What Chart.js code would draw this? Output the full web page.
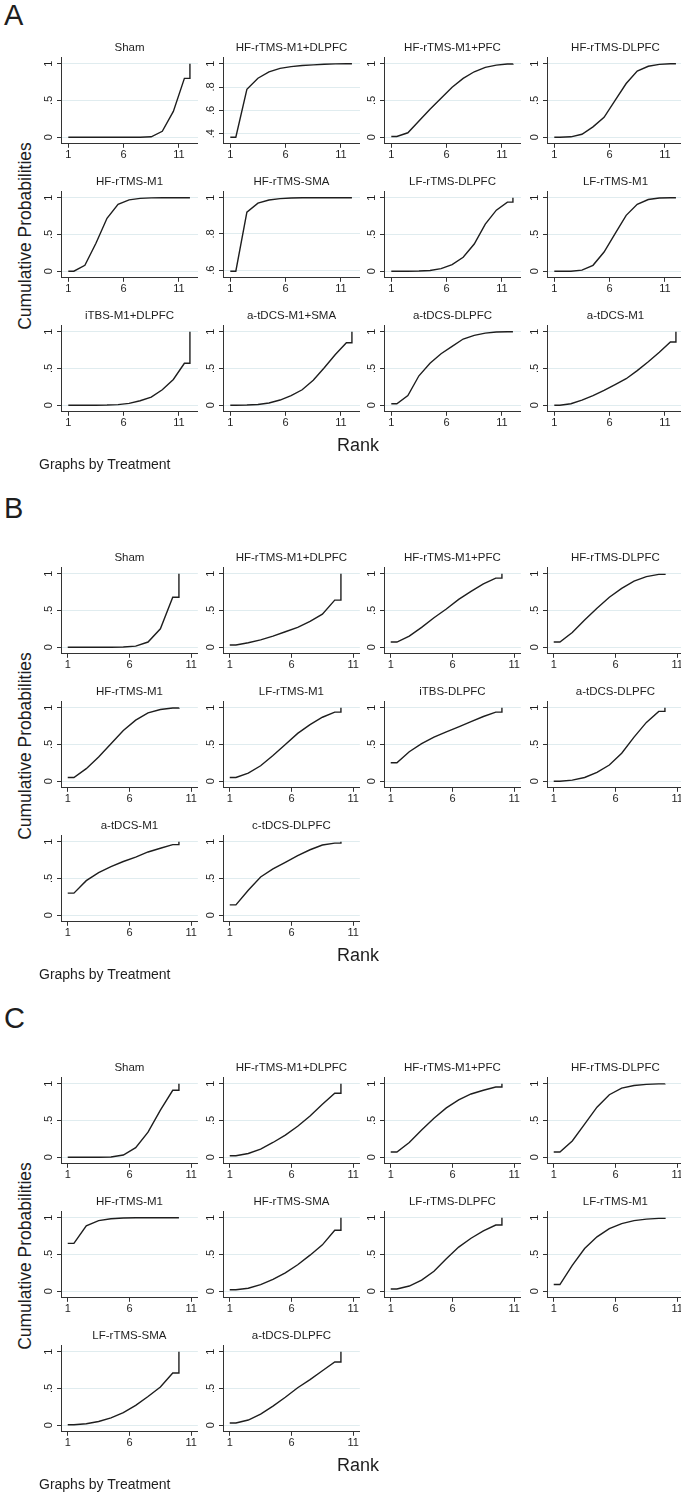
<!DOCTYPE html>
<html>
<head>
<meta charset="utf-8">
<script src="https://cdn.jsdelivr.net/npm/chart.js@4.4.0/dist/chart.umd.min.js"></script>
<style>
body { margin: 0; background: #fff; }
#page { position: relative; width: 681px; height: 1494px; overflow: hidden; font-family: 'Liberation Sans', Arial, sans-serif; color: #1e1e1e; }
canvas { position: absolute; }
.letter { position: absolute; left: 4px; font-size: 29px; line-height: 29px; }
.ylab { position: absolute; left: 25px; font-size: 17.5px; white-space: nowrap; transform: translate(-50%, -50%) rotate(-90deg); }
.xlab { position: absolute; left: 358px; font-size: 18px; transform: translate(-50%, -50%); }
.note { position: absolute; left: 39px; font-size: 14px; white-space: nowrap; transform: translateY(-50%); }
</style>
</head>
<body>
<div id="page"></div>
<script>
// tick labels
var xTicks = [1, 6, 11];
var yTicksDefault = [0, 0.5, 1];

// A
var treatmentsA = ['Sham', 'HF-rTMS-M1+DLPFC', 'HF-rTMS-M1+PFC', 'HF-rTMS-DLPFC',
    'HF-rTMS-M1', 'HF-rTMS-SMA', 'LF-rTMS-DLPFC', 'LF-rTMS-M1',
    'iTBS-M1+DLPFC', 'a-tDCS-M1+SMA', 'a-tDCS-DLPFC', 'a-tDCS-M1'];
var cumProbA = [
    [0, 0, 0, 0, 0, 0, 0, 0.005, 0.08, 0.35, 0.8, 1],
    [0.37, 0.78, 0.875, 0.93, 0.96, 0.975, 0.985, 0.99, 0.995, 0.998, 1, 1],
    [0.01, 0.06, 0.22, 0.38, 0.53, 0.68, 0.8, 0.89, 0.95, 0.98, 0.995, 1],
    [0, 0.005, 0.04, 0.14, 0.27, 0.5, 0.73, 0.9, 0.965, 0.99, 1, 1],
    [0, 0.08, 0.38, 0.72, 0.91, 0.97, 0.99, 0.998, 1, 1, 1, 1],
    [0.595, 0.92, 0.97, 0.987, 0.995, 0.998, 1, 1, 1, 1, 1, 1],
    [0, 0, 0.003, 0.01, 0.035, 0.09, 0.19, 0.37, 0.64, 0.83, 0.94, 1],
    [0, 0, 0.015, 0.08, 0.26, 0.51, 0.76, 0.91, 0.975, 0.995, 1, 1],
    [0, 0, 0, 0.002, 0.008, 0.025, 0.06, 0.11, 0.21, 0.35, 0.57, 1],
    [0, 0.003, 0.01, 0.03, 0.07, 0.13, 0.21, 0.34, 0.51, 0.69, 0.85, 1],
    [0.02, 0.13, 0.4, 0.57, 0.7, 0.8, 0.9, 0.95, 0.98, 0.995, 1, 1],
    [0, 0.02, 0.07, 0.13, 0.2, 0.28, 0.36, 0.47, 0.59, 0.72, 0.86, 1]
];
var yTicksA = { 'HF-rTMS-M1+DLPFC': [0.4, 0.6, 0.8, 1], 'HF-rTMS-SMA': [0.6, 0.8, 1] };

// B
var treatmentsB = ['Sham', 'HF-rTMS-M1+DLPFC', 'HF-rTMS-M1+PFC', 'HF-rTMS-DLPFC',
    'HF-rTMS-M1', 'LF-rTMS-M1', 'iTBS-DLPFC', 'a-tDCS-DLPFC',
    'a-tDCS-M1', 'c-tDCS-DLPFC'];
var cumProbB = [
    [0, 0, 0, 0, 0.002, 0.015, 0.07, 0.25, 0.68, 1],
    [0.03, 0.06, 0.1, 0.15, 0.21, 0.27, 0.35, 0.45, 0.64, 1],
    [0.07, 0.15, 0.27, 0.4, 0.52, 0.65, 0.76, 0.86, 0.94, 1],
    [0.07, 0.2, 0.37, 0.53, 0.68, 0.8, 0.9, 0.96, 0.99, 1],
    [0.05, 0.17, 0.33, 0.51, 0.69, 0.83, 0.93, 0.975, 0.995, 1],
    [0.05, 0.11, 0.21, 0.35, 0.5, 0.65, 0.77, 0.87, 0.94, 1],
    [0.25, 0.4, 0.51, 0.6, 0.67, 0.74, 0.81, 0.88, 0.94, 1],
    [0, 0.015, 0.05, 0.12, 0.22, 0.38, 0.6, 0.8, 0.95, 1],
    [0.3, 0.47, 0.58, 0.66, 0.73, 0.79, 0.86, 0.91, 0.96, 1],
    [0.14, 0.34, 0.52, 0.63, 0.72, 0.81, 0.89, 0.955, 0.98, 1]
];

// C
var treatmentsC = ['Sham', 'HF-rTMS-M1+DLPFC', 'HF-rTMS-M1+PFC', 'HF-rTMS-DLPFC',
    'HF-rTMS-M1', 'HF-rTMS-SMA', 'LF-rTMS-DLPFC', 'LF-rTMS-M1',
    'LF-rTMS-SMA', 'a-tDCS-DLPFC'];
var cumProbC = [
    [0, 0, 0, 0.002, 0.03, 0.13, 0.34, 0.64, 0.91, 1],
    [0.02, 0.05, 0.11, 0.2, 0.3, 0.42, 0.56, 0.72, 0.87, 1],
    [0.07, 0.2, 0.37, 0.53, 0.67, 0.78, 0.86, 0.91, 0.955, 1],
    [0.07, 0.22, 0.45, 0.68, 0.85, 0.94, 0.975, 0.99, 0.998, 1],
    [0.65, 0.89, 0.96, 0.985, 0.995, 1, 1, 1, 1, 1],
    [0.02, 0.04, 0.09, 0.16, 0.25, 0.36, 0.49, 0.63, 0.83, 1],
    [0.03, 0.07, 0.15, 0.27, 0.44, 0.6, 0.72, 0.82, 0.9, 1],
    [0.09, 0.35, 0.58, 0.74, 0.85, 0.92, 0.96, 0.98, 0.99, 1],
    [0.005, 0.02, 0.05, 0.1, 0.17, 0.27, 0.39, 0.52, 0.71, 1],
    [0.03, 0.07, 0.15, 0.26, 0.38, 0.51, 0.62, 0.74, 0.86, 1]
];

var panels = [
    { letter: 'A', top: 48, letterTop: 1, names: treatmentsA, cum: cumProbA, yTicks: yTicksA, xMin: 0.34, xMax: 12.73 },
    { letter: 'B', top: 558, letterTop: 494, names: treatmentsB, cum: cumProbB, yTicks: {}, xMin: 0.455, xMax: 11.53 },
    { letter: 'C', top: 1068, letterTop: 1004, names: treatmentsC, cum: cumProbC, yTicks: {}, xMin: 0.455, xMax: 11.53 }
];

var colX = [61, 223, 384, 547];   // y axis line of each column
var rowStep = 134;
var plotW = 131, plotH = 86, yAxisW = 24;
var titleH = 20.8, canvasH = 130;
var font = "'Liberation Sans', Arial, sans-serif";
var ink = '#1e1e1e';

var page = document.getElementById('page');

function fmt(v) {
    if (v === 0) return '0';
    if (v === 1) return '1';
    return String(v).replace(/^0/, '');
}

// stata style: horizontal start, mid-rank steps, vertical finish at last rank
function rankPoints(p) {
    var n = p.length;
    var pts = [{ x: 1, y: p[0] }];
    for (var k = 1; k < n; k++) {
        pts.push({ x: k + 0.5, y: p[k - 1] });
    }
    pts.push({ x: n, y: p[n - 2] });
    pts.push({ x: n, y: p[n - 1] });
    return pts;
}

var yLabelPlugin = {
    id: 'yLabels',
    afterDraw: function(chart) {
        var s = chart.scales.y;
        var ctx = chart.ctx;
        ctx.save();
        ctx.font = '11px ' + font;
        ctx.fillStyle = ink;
        ctx.textAlign = 'center';
        ctx.textBaseline = 'middle';
        s.ticks.forEach(function(t) {
            var py = s.getPixelForValue(t.value);
            ctx.save();
            ctx.translate(chart.chartArea.left - 12, py);
            ctx.rotate(-Math.PI / 2);
            ctx.fillText(fmt(t.value), 0, 0);
            ctx.restore();
        });
        ctx.restore();
    }
};

function addText(cls, text, top) {
    var d = document.createElement('div');
    d.className = cls;
    d.textContent = text;
    d.style.top = top + 'px';
    page.appendChild(d);
}

function makeChart(panel, idx) {
    var name = panel.names[idx];
    var p = panel.cum[idx];
    var row = Math.floor(idx / 4), col = idx % 4;
    var titleY = panel.top + row * rowStep;

    var cv = document.createElement('canvas');
    cv.width = yAxisW + plotW + 6;
    cv.height = canvasH;
    cv.style.left = (colX[col] - yAxisW) + 'px';
    cv.style.top = (titleY - 10.9) + 'px';
    page.appendChild(cv);

    var ticksY = panel.yTicks[name] || yTicksDefault;
    var lo = Math.min(Math.min.apply(null, p), ticksY[0]);
    var range = 1 - lo;

    new Chart(cv, {
        type: 'line',
        data: {
            datasets: [{
                data: rankPoints(p),
                borderColor: ink,
                borderWidth: 1.4,
                pointRadius: 0,
                tension: 0,
                fill: false
            }]
        },
        options: {
            responsive: false,
            animation: false,
            devicePixelRatio: 1,
            layout: { padding: 0 },
            plugins: {
                legend: { display: false },
                tooltip: { enabled: false },
                title: {
                    display: true,
                    text: name,
                    fullSize: false,
                    color: ink,
                    font: { family: font, size: 11.5, weight: 'normal', lineHeight: 1.2 },
                    padding: { top: 4, bottom: 3 }
                }
            },
            scales: {
                x: {
                    type: 'linear',
                    min: panel.xMin,
                    max: panel.xMax,
                    afterBuildTicks: function(s) { s.ticks = xTicks.map(function(v) { return { value: v }; }); },
                    afterFit: function(s) { s.height = canvasH - titleH - plotH; },
                    grid: { drawOnChartArea: false, drawTicks: true, tickLength: 4, tickColor: '#333' },
                    border: { display: true, color: '#333', width: 1 },
                    ticks: { color: ink, font: { family: font, size: 11 }, padding: 1, maxRotation: 0, autoSkip: false,
                        callback: function(v) { return fmt(v); } }
                },
                y: {
                    type: 'linear',
                    min: lo - 0.09 * range,
                    max: 1 + 0.08 * range,
                    afterBuildTicks: function(s) { s.ticks = ticksY.map(function(v) { return { value: v }; }); },
                    afterFit: function(s) { s.width = yAxisW; },
                    grid: { color: '#e0ecef', lineWidth: 1, drawTicks: true, tickLength: 4, tickColor: '#333' },
                    border: { display: true, color: '#333', width: 1 },
                    ticks: { display: false }
                }
            }
        },
        plugins: [yLabelPlugin]
    });
}

panels.forEach(function(panel) {
    var d = document.createElement('div');
    d.className = 'letter';
    d.textContent = panel.letter;
    d.style.top = panel.letterTop + 'px';
    page.appendChild(d);

    for (var i = 0; i < panel.names.length; i++) {
        makeChart(panel, i);
    }

    addText('ylab', 'Cumulative Probabilities', panel.top + 188);
    addText('xlab', 'Rank', panel.top + 397);
    addText('note', 'Graphs by Treatment', panel.top + 416);
});
</script>
</body>
</html>
